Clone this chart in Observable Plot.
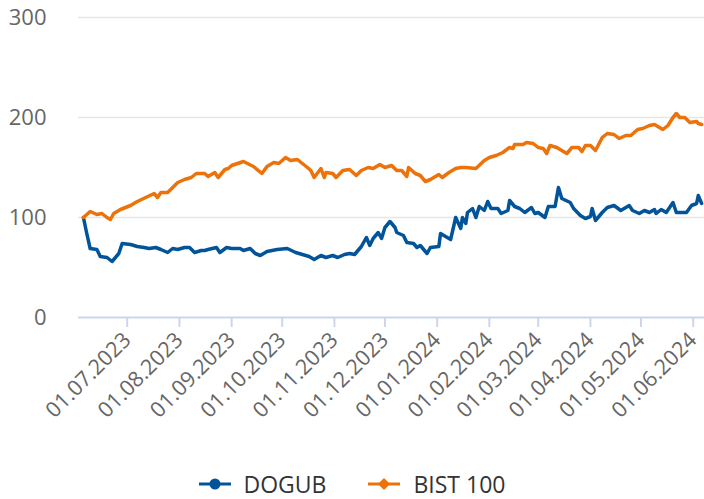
<!DOCTYPE html>
<html><head><meta charset="utf-8">
<script src="https://cdn.jsdelivr.net/npm/d3@7"></script>
<script src="https://cdn.jsdelivr.net/npm/@observablehq/plot@0.6"></script>
<style>
body{margin:0;background:#fff;font-family:"Open Sans",sans-serif;}
#chart{width:704px;height:462px;}
.legend{display:flex;justify-content:center;align-items:center;height:30px;line-height:30px;padding-top:7px;font-size:23px;color:#333;width:704px;}
.item{display:flex;align-items:center;margin:0 21px;white-space:nowrap;}
.item svg{margin-right:13px;}
</style></head><body>
<div id="chart"></div>
<div class="legend" id="legend"></div>
<script>
const seriesNames = ["DOGUB", "BIST 100"];
const seriesColors = ["#02549a", "#ec7209"];
const yTicks = [0, 100, 200, 300];
const xTicks = ["2023-07-01","2023-08-01","2023-09-01","2023-10-01","2023-11-01","2023-12-01",
  "2024-01-01","2024-02-01","2024-03-01","2024-04-01","2024-05-01","2024-06-01"];

const dogubDates = ["2023-06-05","2023-06-07","2023-06-09","2023-06-13","2023-06-15","2023-06-19","2023-06-22","2023-06-26","2023-06-28",
  "2023-07-03","2023-07-07","2023-07-11","2023-07-14","2023-07-18","2023-07-21","2023-07-25","2023-07-28","2023-07-31",
  "2023-08-04","2023-08-07","2023-08-10","2023-08-14","2023-08-16","2023-08-18","2023-08-23","2023-08-25","2023-08-29",
  "2023-09-01","2023-09-06","2023-09-08","2023-09-12","2023-09-15","2023-09-18","2023-09-22","2023-09-28",
  "2023-10-04","2023-10-09","2023-10-13","2023-10-17","2023-10-20","2023-10-24","2023-10-27","2023-10-31",
  "2023-11-03","2023-11-07","2023-11-10","2023-11-13","2023-11-16","2023-11-17","2023-11-20","2023-11-22","2023-11-24","2023-11-27","2023-11-29",
  "2023-12-01","2023-12-04","2023-12-07","2023-12-08","2023-12-12","2023-12-14","2023-12-18","2023-12-20","2023-12-22","2023-12-26","2023-12-28",
  "2024-01-02","2024-01-03","2024-01-05","2024-01-09","2024-01-12","2024-01-15","2024-01-16","2024-01-18","2024-01-19","2024-01-22","2024-01-24","2024-01-26","2024-01-29","2024-01-31",
  "2024-02-02","2024-02-06","2024-02-08","2024-02-12","2024-02-13","2024-02-16","2024-02-19","2024-02-22","2024-02-26","2024-02-28",
  "2024-03-01","2024-03-05","2024-03-07","2024-03-11","2024-03-13","2024-03-15","2024-03-20","2024-03-22","2024-03-26","2024-03-29",
  "2024-04-01","2024-04-02","2024-04-04","2024-04-08","2024-04-11","2024-04-15","2024-04-19","2024-04-24","2024-04-26","2024-04-30",
  "2024-05-03","2024-05-06","2024-05-09","2024-05-10","2024-05-13","2024-05-16","2024-05-20","2024-05-22","2024-05-28","2024-05-31",
  "2024-06-03","2024-06-04","2024-06-06"];
const dogubValues = [100,84,69,68,61,60,56,64,74,
  73,71,70,69,70,68,65,69,68,
  70,70,65,67,67,68,70,65,70,
  69,69,67,69,64,62,66,68,
  69,65,63,61,58,62,60,62,
  60,63,64,63,69,71,80,72,79,85,79,
  90,96,90,85,82,75,74,70,72,64,70,
  71,84,82,78,100,89,100,94,105,109,100,111,107,116,
  109,109,104,107,117,111,109,105,110,104,
  105,100,111,111,130,119,115,109,102,99,
  101,109,97,105,110,112,107,112,107,104,
  107,105,108,104,108,105,115,105,105,112,
  114,122,114];

const bistDates = ["2023-06-05","2023-06-09","2023-06-13","2023-06-16","2023-06-19","2023-06-21","2023-06-23","2023-06-27",
  "2023-07-03","2023-07-07","2023-07-12","2023-07-17","2023-07-19","2023-07-21","2023-07-25","2023-07-31",
  "2023-08-04","2023-08-08","2023-08-11","2023-08-16","2023-08-18","2023-08-22","2023-08-24","2023-08-28","2023-08-30",
  "2023-09-01","2023-09-08","2023-09-14","2023-09-19","2023-09-22","2023-09-26","2023-09-29",
  "2023-10-03","2023-10-06","2023-10-10","2023-10-16","2023-10-18","2023-10-20","2023-10-24","2023-10-26","2023-10-27","2023-10-31",
  "2023-11-02","2023-11-06","2023-11-10","2023-11-14","2023-11-17","2023-11-21","2023-11-24","2023-11-28",
  "2023-12-01","2023-12-05","2023-12-08","2023-12-11","2023-12-14","2023-12-15","2023-12-19","2023-12-22","2023-12-25","2023-12-28",
  "2024-01-02","2024-01-04","2024-01-08","2024-01-10","2024-01-12","2024-01-15","2024-01-18","2024-01-24","2024-01-29",
  "2024-02-01","2024-02-05","2024-02-09","2024-02-13","2024-02-15","2024-02-16","2024-02-21","2024-02-23","2024-02-27",
  "2024-03-01","2024-03-04","2024-03-06","2024-03-08","2024-03-12","2024-03-15","2024-03-18","2024-03-21","2024-03-25","2024-03-27","2024-03-29",
  "2024-04-01","2024-04-04","2024-04-08","2024-04-11","2024-04-15","2024-04-18","2024-04-22","2024-04-25","2024-04-29",
  "2024-05-02","2024-05-06","2024-05-09","2024-05-14","2024-05-17","2024-05-20","2024-05-22","2024-05-24","2024-05-27","2024-05-30",
  "2024-06-03","2024-06-04","2024-06-06"];
const bistValues = [100,106,103,104,100,98,104,108,
  112,116,120,124,120,125,125,135,
  138,140,144,144,141,145,140,148,149,
  152,156,151,144,151,155,154,
  160,157,158,150,147,140,149,140,145,144,
  140,147,148,142,147,150,149,153,
  150,152,147,147,141,150,144,142,136,138,
  143,140,145,147,149,150,150,149,157,
  160,162,165,170,169,173,173,175,174,
  170,169,164,172,170,167,164,170,170,166,172,
  172,167,180,184,183,179,182,182,188,
  189,192,193,188,192,200,204,200,200,195,
  196,194,193];

const parse = d3.utcParse("%Y-%m-%d");
const data = [
  ...dogubDates.map((d, i) => ({date: parse(d), value: dogubValues[i], series: seriesNames[0]})),
  ...bistDates.map((d, i) => ({date: parse(d), value: bistValues[i], series: seriesNames[1]}))
];

const chart = Plot.plot({
  width: 704, height: 462,
  marginTop: 17, marginBottom: 145, marginLeft: 78, marginRight: 0,
  style: {fontFamily: "'Open Sans', sans-serif", background: "#fff", overflow: "visible"},
  x: {type: "utc", domain: [new Date(Date.UTC(2023, 5, 2, 2)), new Date(Date.UTC(2024, 5, 7, 17))]},
  y: {domain: [0, 300]},
  color: {domain: seriesNames, range: seriesColors},
  marks: [
    Plot.ruleY(yTicks.filter(v => v > 0), {stroke: "#e6e6e6", strokeWidth: 1.5}),
    Plot.axisY({ticks: yTicks, tickSize: 0, tickPadding: 32, fontSize: 22, fill: "#666", label: null}),
    Plot.axisX({ticks: xTicks.map(parse), tickSize: 10, stroke: "#ccd6eb", strokeWidth: 2, tickRotate: -45,
      tickPadding: 9, tickFormat: d3.utcFormat("%d.%m.%Y"), fontSize: 21.5, fill: "#666", label: null}),
    Plot.ruleY([0], {stroke: "#ccd6eb", strokeWidth: 2}),
    Plot.line(data, {x: "date", y: "value", z: "series", stroke: "series", strokeWidth: 3.5,
      strokeLinejoin: "round", strokeLinecap: "round"})
  ]
});
document.getElementById("chart").appendChild(chart);

const legend = document.getElementById("legend");
seriesNames.forEach((name, i) => {
  const item = document.createElement("div");
  item.className = "item";
  const marker = i === 0
    ? `<circle cx="16" cy="8" r="5.5" fill="${seriesColors[i]}"/>`
    : `<path d="M16 2 L22 8 L16 14 L10 8 Z" fill="${seriesColors[i]}"/>`;
  item.innerHTML = `<svg width="32" height="16"><line x1="0" y1="8" x2="32" y2="8" stroke="${seriesColors[i]}" stroke-width="3"/>${marker}</svg><span>${name}</span>`;
  legend.appendChild(item);
});
</script>
</body></html>
